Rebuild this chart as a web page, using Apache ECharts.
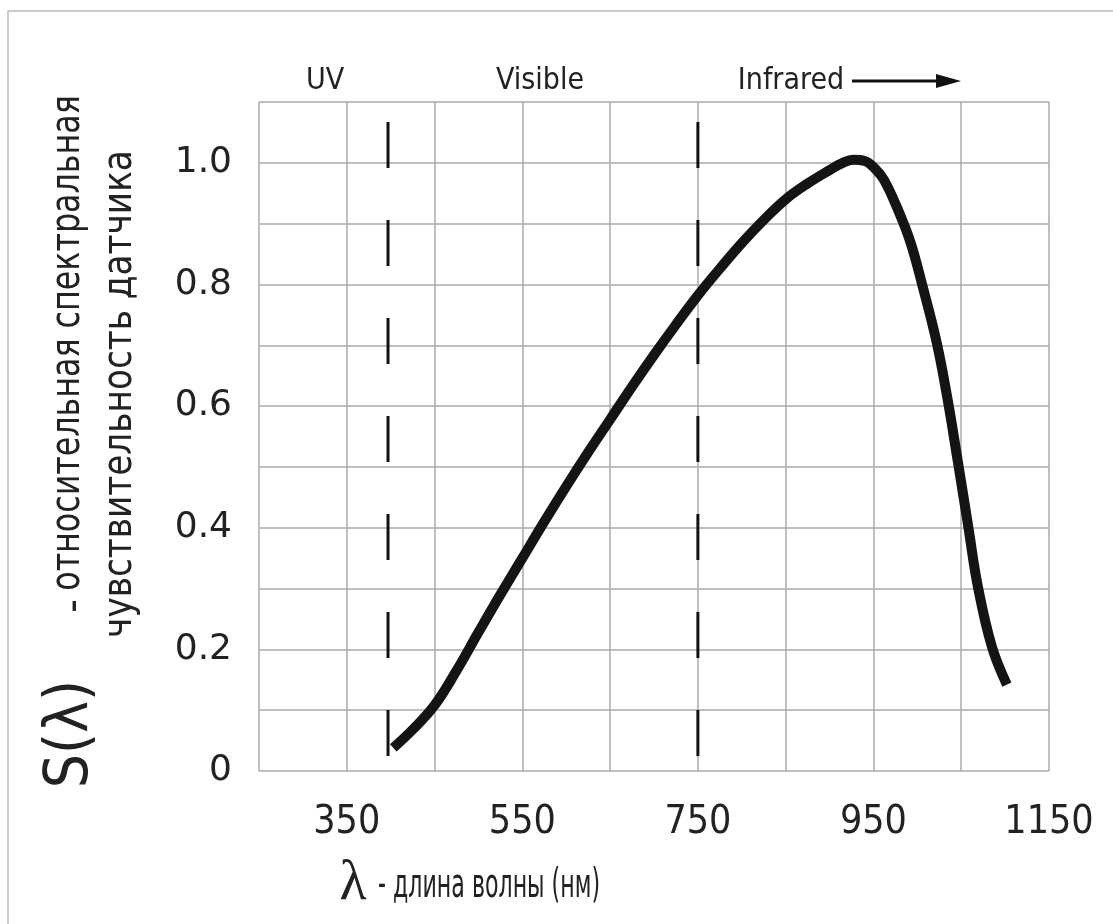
<!DOCTYPE html>
<html><head><meta charset="utf-8">
<script src="https://cdn.jsdelivr.net/npm/echarts@6/dist/echarts.min.js"></script>
<style>html,body{margin:0;padding:0;background:#fff}#c{width:1113px;height:924px}</style>
</head><body><div id="c"></div>
<script>
// Data
const wavelength = [403, 425, 450, 475, 500, 525, 550, 575, 600, 625, 650, 675, 700, 725, 750, 775, 800, 825, 850, 875, 900, 915, 927, 940, 952, 962, 977, 992, 1006, 1022, 1034, 1046, 1058, 1069, 1085, 1102];
const sensitivity = [0.038, 0.068, 0.108, 0.165, 0.228, 0.290, 0.350, 0.410, 0.468, 0.524, 0.578, 0.632, 0.684, 0.734, 0.782, 0.826, 0.868, 0.906, 0.940, 0.966, 0.988, 1.000, 1.005, 1.003, 0.990, 0.972, 0.926, 0.870, 0.797, 0.705, 0.615, 0.510, 0.402, 0.303, 0.204, 0.142];
const xTickLabels = [350, 550, 750, 950, 1150];
const yTickLabels = ['0', '0.2', '0.4', '0.6', '0.8', '1.0'];
const boundaryWavelengths = [397, 750];
const boundaryTop = 1.067;
const regionLabels = ['UV', 'Visible', 'Infrared'];

const NARROW = '"Liberation Sans Narrow", "DejaVu Sans Condensed", "Liberation Sans", sans-serif';
const chart = echarts.init(document.getElementById('c'), null, {renderer: 'canvas'});

const curve = wavelength.map((w, i) => [w, sensitivity[i]]);
const boundarySeries = boundaryWavelengths.map(w => ({
  type: 'line', data: [[w, boundaryTop], [w, 0]], symbol: 'none', silent: true,
  lineStyle: {color: '#111', width: 3, type: [46, 52]}, z: 3
}));

const txt = (x, y, text, font, opts) => Object.assign({
  type: 'text', x: x, y: y, silent: true,
  style: {text: text, font: font, fill: '#222', textAlign: 'center', textVerticalAlign: 'middle'}
}, opts || {});

chart.setOption({
  animation: false,
  backgroundColor: '#fff',
  grid: {left: 259, right: 64, top: 102, bottom: 153},
  xAxis: {
    type: 'value', min: 250, max: 1150, interval: 100,
    axisLine: {show: false}, axisTick: {show: false},
    splitLine: {show: true, lineStyle: {color: '#aaa', width: 1.5}},
    axisLabel: {
      margin: 32, color: '#222', fontSize: 39, fontFamily: NARROW,
      formatter: v => xTickLabels.includes(v) ? String(v) : ''
    }
  },
  yAxis: {
    type: 'value', min: 0, max: 1.1, interval: 0.1,
    axisLine: {show: false}, axisTick: {show: false},
    splitLine: {show: true, lineStyle: {color: '#aaa', width: 1.5}},
    axisLabel: {
      margin: 27, color: '#222', fontSize: 36, fontFamily: '"DejaVu Sans", sans-serif',
      formatter: v => {
        const k = Math.round(v * 10);
        return (k % 2 === 0 && k / 2 < yTickLabels.length) ? yTickLabels[k / 2] : '';
      }
    }
  },
  series: [
    ...boundarySeries,
    {type: 'line', data: curve, smooth: 0.4, symbol: 'none', silent: true,
     lineStyle: {color: '#141414', width: 10, cap: 'butt'}, z: 5}
  ],
  graphic: [
    {type: 'rect', silent: true, shape: {x: 8, y: 11, width: 1200, height: 1000}, style: {fill: 'none', stroke: '#bbb', lineWidth: 1.5}},
    txt(325, 81, regionLabels[0], '30px ' + NARROW),
    txt(540, 81, regionLabels[1], '30px ' + NARROW),
    txt(791, 81, regionLabels[2], '30px ' + NARROW),
    {type: 'line', silent: true, shape: {x1: 852, y1: 81, x2: 940, y2: 81}, style: {stroke: '#111', lineWidth: 3}},
    {type: 'polygon', silent: true, shape: {points: [[936, 74], [961, 81], [936, 88]]}, style: {fill: '#111'}},
    // Y axis title (rotated)
    txt(71, 734, 'S(λ)', '60px ' + NARROW, {rotation: Math.PI / 2}),
    txt(75, 606, '-', '42px ' + NARROW, {rotation: Math.PI / 2}),
    txt(68, 343, 'относительная спектральная', '41px ' + NARROW, {rotation: Math.PI / 2, scaleX: 0.86}),
    txt(120, 394, 'чувствительность датчика', '41px ' + NARROW, {rotation: Math.PI / 2, scaleX: 0.93}),
    // X axis title
    txt(353, 884, 'λ', '56px "Liberation Serif", "DejaVu Serif", serif'),
    {type: 'text', x: 378, y: 886, silent: true, scaleX: 0.6,
     style: {text: '- длина волны (нм)', font: '41px ' + NARROW, fill: '#222', textAlign: 'left', textVerticalAlign: 'middle'}}
  ]
});
</script></body></html>
